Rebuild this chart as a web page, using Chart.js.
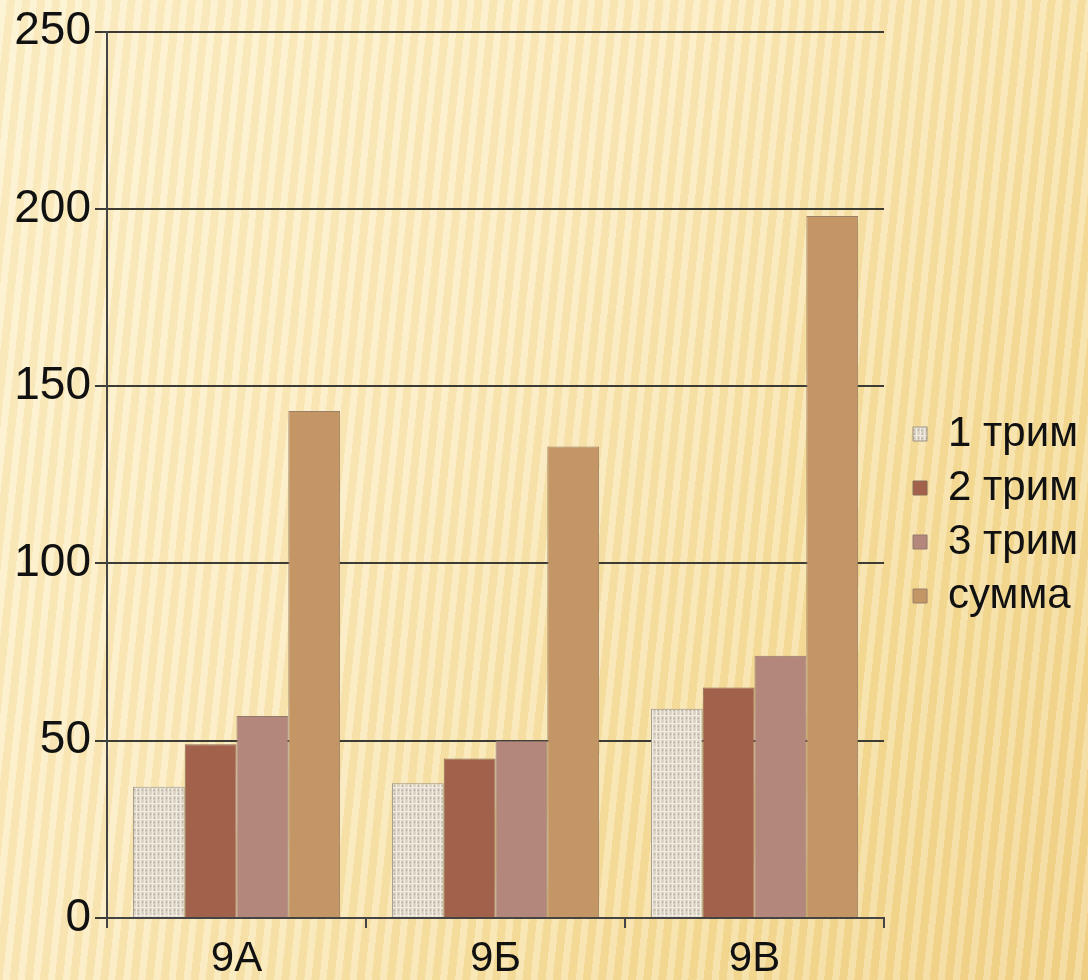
<!DOCTYPE html>
<html>
<head>
<meta charset="utf-8">
<script src="https://cdn.jsdelivr.net/npm/chart.js@4.4.1/dist/chart.umd.min.js"></script>
<style>
  html, body { margin: 0; padding: 0; }
  body {
    width: 1088px; height: 980px; overflow: hidden;
    background:
      repeating-linear-gradient(96deg, rgba(255,255,255,0.22) 0px, rgba(255,255,255,0.22) 7px, rgba(220,175,80,0.10) 7px, rgba(220,175,80,0.10) 15px),
      linear-gradient(125deg, #fdf1cb 0%, #fbeabb 40%, #f5dc98 75%, #f1d288 100%);
  }
  #wrap { position: relative; width: 1088px; height: 980px; }
</style>
</head>
<body>
<div id="wrap"><canvas id="barChart" width="1088" height="980"></canvas></div>
<script>
var classes = ['9А', '9Б', '9В'];
var trim1 = [37, 38, 59];
var trim2 = [49, 45, 65];
var trim3 = [57, 50, 74];
var summa = [143, 133, 198];
var yTicks = [0, 50, 100, 150, 200, 250];

// light speckled texture for the first series
function makeTexture() {
    var c = document.createElement('canvas');
    c.width = 8; c.height = 8;
    var g = c.getContext('2d');
    g.fillStyle = '#dcd4c6';
    g.fillRect(0, 0, 8, 8);
    g.fillStyle = '#f1ece2';
    g.fillRect(0, 0, 1, 8);
    g.fillRect(4, 0, 1, 8);
    g.fillRect(0, 3, 8, 1);
    g.fillStyle = '#b9b0a2';
    g.fillRect(2, 1, 1, 2);
    g.fillRect(6, 5, 1, 2);
    g.fillRect(1, 6, 2, 1);
    return g.createPattern(c, 'repeat');
}

// nudge the legend down / right a little
var shiftLegend = {
    id: 'shiftLegend',
    afterLayout: function (chart) {
        var l = chart.legend;
        l.top += 18; l.bottom += 18;
        l.left += 17; l.right += 17;
    }
};

var ctx = document.getElementById('barChart').getContext('2d');
var myChart = new Chart(ctx, {
    type: 'bar',
    data: {
        labels: classes,
        datasets: [
            { label: '1 трим', data: trim1, backgroundColor: makeTexture(), borderColor: '#9c9284', borderWidth: 1 },
            { label: '2 трим', data: trim2, backgroundColor: '#a2614b', borderColor: '#8a6a58', borderWidth: 1 },
            { label: '3 трим', data: trim3, backgroundColor: '#b3877c', borderColor: '#94786c', borderWidth: 1 },
            { label: 'сумма', data: summa, backgroundColor: '#c49666', borderColor: '#9a8068', borderWidth: 1 }
        ]
    },
    options: {
        responsive: false,
        animation: false,
        layout: { padding: { top: 14, right: 17, bottom: 0, left: 0 } },
        datasets: { bar: { categoryPercentage: 0.8, barPercentage: 1.0 } },
        plugins: {
            tooltip: { enabled: false },
            legend: {
                position: 'right',
                labels: {
                    color: '#111',
                    font: { family: 'Liberation Sans, Arial', size: 42 },
                    boxWidth: 14,
                    boxHeight: 14,
                    padding: 12
                }
            }
        },
        scales: {
            x: {
                grid: { drawOnChartArea: false, drawTicks: true, tickLength: 10, color: '#444', lineWidth: 2 },
                border: { color: '#444', width: 2 },
                ticks: { color: '#111', font: { family: 'Liberation Sans, Arial', size: 42 }, padding: 6 },
                afterFit: function (s) { s.height = 62; }
            },
            y: {
                min: 0,
                max: 250,
                afterBuildTicks: function (s) { s.ticks = yTicks.map(function (v) { return { value: v }; }); },
                grid: { color: '#3c3c34', lineWidth: 2, tickLength: 12 },
                border: { color: '#444', width: 2 },
                ticks: { color: '#111', font: { family: 'Liberation Sans, Arial', size: 46 }, padding: 4 },
                afterFit: function (s) { s.width = 107; }
            }
        }
    },
    plugins: [shiftLegend]
});
</script>
</body>
</html>
